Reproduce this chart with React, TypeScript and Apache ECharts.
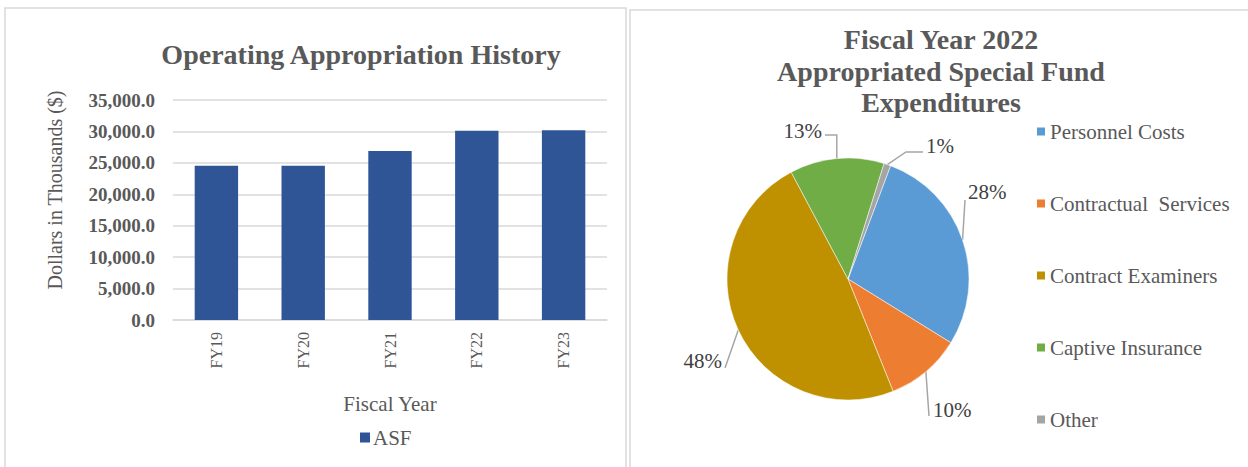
import React, { useEffect, useRef } from "react";
import * as echarts from "echarts";

const years = ["FY19", "FY20", "FY21", "FY22", "FY23"];
const asfValues = [24550, 24550, 26890, 30120, 30180];
const yTicks = [0, 5000, 10000, 15000, 20000, 25000, 30000, 35000];

const pieNames = ["Personnel Costs", "Contractual  Services", "Contract Examiners", "Captive Insurance", "Other"];
const pieValues = [28.1, 10.1, 48.3, 12.6, 0.9];
const pieColors = ["#5B9BD5", "#ED7D31", "#BF9000", "#70AD47", "#A5A5A5"];

// label placement relative to pie centre (dx, dy, align) — layout only
const PIE_CX = 848;
const PIE_CY = 279;
const labelPlacement: [number, number, string][] = [
  [120, -87, "left"],
  [85, 131, "left"],
  [-126, 82, "right"],
  [-26, -148, "right"],
  [78, -133, "left"],
];
// leader-line end (relative to label anchor) and optional elbow
const lineEnd: [number, number][] = [[-3, 8], [-4, 6], [3, 7], [3, 4], [-3, 6]];
const lineElbow: (null | "vertical" | [number, number])[] = [null, null, null, "vertical", [-20, 6]];

const FONT = "'Liberation Serif', 'Times New Roman', serif";

export default function App() {
  const ref = useRef<HTMLDivElement>(null);
  useEffect(() => {
    if (!ref.current) return;
    const chart = echarts.init(ref.current, undefined, { renderer: "svg" });
    chart.setOption({
      animation: false,
      backgroundColor: "#fff",
      textStyle: { fontFamily: FONT },
      graphic: [
        { type: "rect", shape: { x: 5, y: 8, width: 621, height: 470 }, style: { fill: "none", stroke: "#d9d9d9", lineWidth: 1.5 }, z: 0 },
        { type: "rect", shape: { x: 630, y: 10, width: 630, height: 470 }, style: { fill: "none", stroke: "#d9d9d9", lineWidth: 1.5 }, z: 0 },
      ],
      title: [
        {
          text: "Operating Appropriation History",
          left: 356, top: 35, textAlign: "center",
          textStyle: { fontFamily: FONT, fontSize: 28, fontWeight: "bold", color: "#595959" },
        },
        {
          text: "Fiscal Year 2022\nAppropriated Special Fund\nExpenditures",
          left: 936, top: 19, textAlign: "center",
          textStyle: { fontFamily: FONT, fontSize: 28, fontWeight: "bold", color: "#595959", lineHeight: 31.5 },
        },
      ],
      legend: [
        {
          data: ["ASF"], left: 355, top: 422, itemWidth: 10, itemHeight: 10, icon: "rect", itemGap: 4,
          textStyle: { fontFamily: FONT, fontSize: 21, color: "#595959", padding: [0, 0, 0, -2] },
        },
        {
          data: pieNames, orient: "vertical", left: 1030, top: 116, itemWidth: 10, itemHeight: 10, icon: "rect",
          itemGap: 51,
          textStyle: { fontFamily: FONT, fontSize: 21, color: "#595959", padding: [0, 0, 0, -1] },
        },
      ],
      grid: { left: 173, right: 641, top: 100, bottom: 147 },
      xAxis: {
        type: "category", data: years,
        axisLine: { lineStyle: { color: "#d9d9d9", width: 1.5 } },
        axisTick: { show: false },
        axisLabel: { rotate: 90, fontFamily: FONT, fontSize: 16, color: "#595959", margin: 12 },
        name: "Fiscal Year", nameLocation: "middle", nameGap: 73,
        nameTextStyle: { fontFamily: FONT, fontSize: 21, color: "#595959" },
      },
      yAxis: {
        type: "value", min: 0, max: 35000, interval: 5000,
        axisLine: { show: false }, axisTick: { show: false },
        splitLine: { lineStyle: { color: "#d9d9d9", width: 1.5 } },
        axisLabel: {
          fontFamily: FONT, fontSize: 19, fontWeight: "bold", color: "#595959", margin: 18,
          formatter: (v: number) => (yTicks.includes(v) ? v.toLocaleString("en-US", { minimumFractionDigits: 1, maximumFractionDigits: 1 }) : ""),
        },
        name: "Dollars in Thousands ($)", nameLocation: "middle", nameGap: 108,
        nameTextStyle: { fontFamily: FONT, fontSize: 20, color: "#595959", padding: [0, 0, 0, 40] },
      },
      series: [
        {
          name: "ASF", type: "bar", data: asfValues, barWidth: "50%",
          itemStyle: { color: "#2F5597" },
        },
        {
          name: "FY2022", type: "pie", center: [PIE_CX, PIE_CY], radius: 121, startAngle: 69.4, clockwise: true,
          data: pieNames.map((n, i) => ({ name: n, value: pieValues[i], itemStyle: { color: pieColors[i] } })),
          itemStyle: { borderColor: "#fff", borderWidth: 0.5 },
          label: {
            show: true, position: "outside", fontFamily: FONT, fontSize: 21, color: "#404040",
            formatter: (p: any) => Math.round(p.percent) + "%",
          },
          labelLine: { show: true, length: 6, length2: 6, lineStyle: { color: "#a6a6a6", width: 1.5 } },
          labelLayout: (p: any) => {
            const i = p.dataIndex;
            const pl = labelPlacement[i];
            const x = PIE_CX + pl[0];
            const y = PIE_CY + pl[1];
            const res: any = { x, y, align: pl[2], verticalAlign: "middle" };
            const pts = p.labelLinePoints;
            if (pts && pts.length) {
              const p0 = pts[0];
              const end = [x + lineEnd[i][0], y + lineEnd[i][1]];
              const el = lineElbow[i];
              let mid: number[];
              if (el === "vertical") mid = [p0[0], end[1]];
              else if (el) mid = [x + el[0], y + el[1]];
              else mid = [(p0[0] + end[0]) / 2, (p0[1] + end[1]) / 2];
              res.labelLinePoints = [p0, mid, end];
            }
            return res;
          },
        },
      ],
    });
    return () => chart.dispose();
  }, []);
  return <div ref={ref} style={{ position: "fixed", left: 0, top: 0, width: 1248, height: 467 }} />;
}
